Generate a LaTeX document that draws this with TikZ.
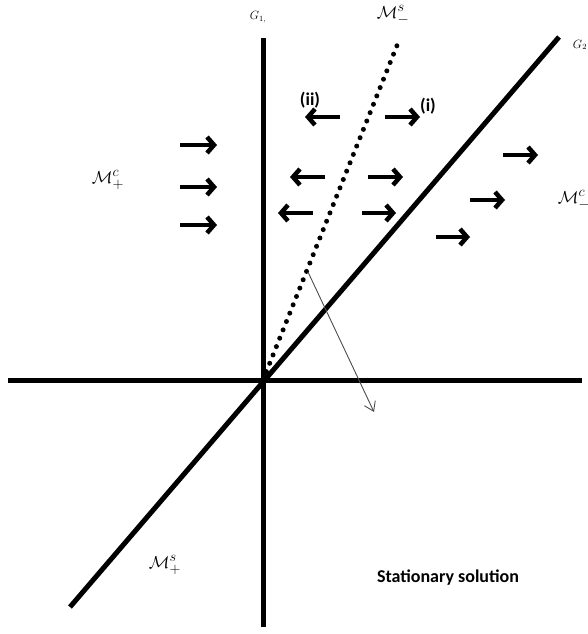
\documentclass[tikz,border=0pt]{standalone}
\usepackage{amsmath,amssymb}
\usepackage{fontspec}
\newfontfamily\tagfont{Carlito}
\usetikzlibrary{arrows.meta}

\begin{document}
\begin{tikzpicture}[
    x=1pt, y=-1pt,
    axis/.style={line width=5pt},
    flow/.style={line width=4.5pt, -{Straight Barb[length=7pt,width=16pt]}},
    tag/.style={font=\tagfont\bfseries\fontsize{18}{21}\selectfont},
    mlabel/.style={font=\fontsize{19}{22}\selectfont}
  ]
  \useasboundingbox (0,0) rectangle (588,634);
  \coordinate (O) at (263,380);
  \coordinate (g1top) at (263,38);
  \coordinate (g1bot) at (263,627);
  \coordinate (left) at (8,380);
  \coordinate (right) at (582,380);
  \coordinate (g2top) at (559,37);
  \coordinate (g2bot) at (70,607);
  \coordinate (mstop) at (400,38);
  \draw[axis] (left) -- (right);
  \draw[axis] (g1bot) -- (g1top);
  \draw[axis] (g2bot) -- (g2top);
  \draw[line width=5pt, line cap=round, dash pattern=on 0pt off 9pt] (O) -- (mstop);
  \node (G1) at (258,17) {\fontsize{12}{14}\selectfont$G_{1,}$};
  \node (G2) at (580,45) {\fontsize{12}{14}\selectfont$G_2$};
  \node (Msm) [mlabel] at (393,15) {$\mathcal{M}^s_-$};
  \node (Mcm) [mlabel] at (574,200) {$\mathcal{M}^c_-$};
  \node (Mcp) [mlabel] at (108,180) {$\mathcal{M}^c_+$};
  \node (Msp) [mlabel] at (165,565) {$\mathcal{M}^s_+$};
  \node (ii) [tag] at (310,100) {(ii)};
  \node (i) [tag] at (428,106) {(i)};
  \node (stat) [tag] at (448,578) {Stationary solution};
  \coordinate (S) at (308,272);
  \coordinate (Stip) at (374,412);
  \draw[line width=0.9pt, black!70, -{Straight Barb[length=9pt,width=12pt]}] (S) -- (Stip);
  \draw[flow] (180,145) -- (217,145);
  \draw[flow] (180,187) -- (217,187);
  \draw[flow] (180,225) -- (217,225);
  \draw[flow] (340,117) -- (305,117);
  \draw[flow] (385,117) -- (420,117);
  \draw[flow] (325,177) -- (290,177);
  \draw[flow] (368,177) -- (403,177);
  \draw[flow] (313,213) -- (278,213);
  \draw[flow] (362,213) -- (396,213);
  \draw[flow] (503,155) -- (538,155);
  \draw[flow] (470,200) -- (505,200);
  \draw[flow] (436,237) -- (470,237);
\end{tikzpicture}
\end{document}
